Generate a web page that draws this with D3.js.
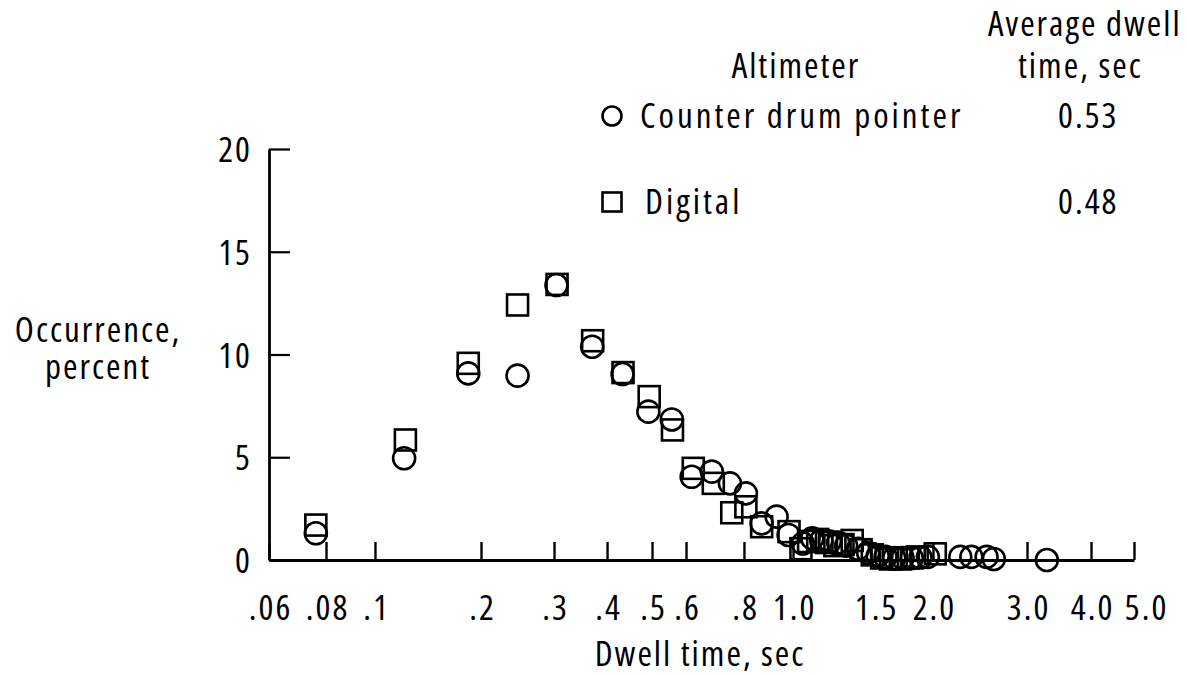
<!DOCTYPE html>
<html>
<head>
<meta charset="utf-8">
<script src="https://cdn.jsdelivr.net/npm/d3@7"></script>
<style>
  body { margin: 0; background: #fff; }
  .axis path, .axis line { stroke: #000; }
  .axis text, .label {
    font-family: "Open Sans", "Roboto", sans-serif;
    font-stretch: 75%;
    font-weight: 500;
    font-size: 35px;
    letter-spacing: 2px;
    fill: #000;
  }
  .label.wide { letter-spacing: 3px; }
  .mark { fill: none; stroke: #000; stroke-width: 2.6; }
</style>
</head>
<body>
<svg width="1189" height="676"></svg>
<script>
// dwell time (sec) and occurrence (percent)
const counterDwell = [0.076, 0.121, 0.184, 0.245, 0.304, 0.369, 0.432, 0.491, 0.556,
  0.617, 0.682, 0.746, 0.807, 0.867, 0.928, 0.98, 1.05, 1.10, 1.15, 1.20, 1.25, 1.30,
  1.38, 1.45, 1.52, 1.58, 1.65, 1.72, 1.80, 1.88, 1.95, 2.25, 2.36, 2.52, 2.60, 3.28];
const counterPct = [1.30, 4.95, 9.08, 8.97, 13.38, 10.38, 9.05, 7.22, 6.84,
  4.05, 4.30, 3.73, 3.24, 1.78, 2.11, 1.22, 0.80, 1.05, 0.95, 0.90, 0.85, 0.70,
  0.55, 0.35, 0.20, 0.15, 0.10, 0.10, 0.10, 0.12, 0.15, 0.15, 0.15, 0.15, 0.05, 0.0];

const digitalDwell = [0.076, 0.122, 0.184, 0.245, 0.305, 0.37, 0.433, 0.493, 0.558,
  0.622, 0.687, 0.753, 0.807, 0.867, 0.982, 1.04, 1.08, 1.13, 1.18, 1.23, 1.28, 1.34,
  1.40, 1.48, 1.55, 1.62, 1.70, 1.77, 1.85, 2.02];
const digitalPct = [1.70, 5.84, 9.57, 12.41, 13.41, 10.67, 9.12, 7.95, 6.33,
  4.46, 3.73, 2.30, 2.59, 1.62, 1.38, 0.55, 0.90, 1.00, 0.85, 0.70, 0.75, 0.95,
  0.50, 0.25, 0.10, 0.05, 0.05, 0.10, 0.15, 0.30];

const xTicks = [0.06, 0.08, 0.1, 0.2, 0.3, 0.4, 0.5, 0.6, 0.8, 1.0, 1.5, 2.0, 3.0, 4.0, 5.0];
const xTickLabels = [".06", ".08", ".1", ".2", ".3", ".4", ".5", ".6", ".8", "1.0", "1.5", "2.0", "3.0", "4.0", "5.0"];
const yTicks = [0, 5, 10, 15, 20];

const series = ["Counter drum pointer", "Digital"];
const averages = ["0.53", "0.48"];

// the original log axis is hand drawn, so ticks are not evenly spaced;
// these are the tick positions as a fraction of the axis length
const xStops = [0, .0659, .1225, .2451, .3295, .3908, .4428, .4821, .5491, .6058, .7006, .7676, .8763, .9503, 1];

const svg = d3.select("svg");
const margin = { top: 149, right: 55, bottom: 116, left: 269 };
const w = +svg.attr("width") - margin.left - margin.right;
const h = +svg.attr("height") - margin.top - margin.bottom;

const g = svg.append("g")
  .attr("transform", `translate(${margin.left}, ${margin.top})`);

const x = d3.scaleLog()
  .domain(xTicks)
  .range(xStops.map(f => f * w));

const y = d3.scaleLinear()
  .domain([0, 20])
  .range([h, 0]);

// axes
const xAxis = g.append("g")
  .attr("class", "axis")
  .attr("transform", `translate(0, ${h})`)
  .call(d3.axisBottom(x)
    .tickValues(xTicks)
    .tickFormat((d, i) => xTickLabels[i])
    .tickSizeInner(-18)
    .tickSizeOuter(0)
    .tickPadding(35));
xAxis.select(".domain").attr("stroke-width", 3.2);
xAxis.selectAll(".tick line").attr("stroke-width", 2.4);
xAxis.selectAll(".tick text").attr("dx", 1);
xAxis.selectAll(".tick").filter(d => d === 5.0).select("text").attr("dx", 12);

const yAxis = g.append("g")
  .attr("class", "axis")
  .call(d3.axisLeft(y)
    .tickValues(yTicks)
    .tickSizeInner(-21)
    .tickSizeOuter(0)
    .tickPadding(17));
yAxis.select(".domain").attr("stroke-width", 2.8);
yAxis.selectAll(".tick line").attr("stroke-width", 2.2);
yAxis.selectAll(".tick text").attr("dy", "0.36em");

// marks
const r = 11;
const side = 21;

g.append("g")
  .selectAll("circle")
  .data(d3.zip(counterDwell, counterPct))
  .join("circle")
    .attr("class", "mark")
    .attr("cx", d => x(d[0]))
    .attr("cy", d => y(d[1]))
    .attr("r", r);

g.append("g")
  .selectAll("rect")
  .data(d3.zip(digitalDwell, digitalPct))
  .join("rect")
    .attr("class", "mark")
    .attr("x", d => x(d[0]) - side / 2)
    .attr("y", d => y(d[1]) - side / 2)
    .attr("width", side)
    .attr("height", side);

// axis titles
svg.append("text")
  .attr("class", "label")
  .attr("text-anchor", "middle")
  .attr("x", 98).attr("y", 342)
  .text("Occurrence,")
  .append("tspan")
    .attr("x", 98).attr("dy", 37)
    .text("percent");

svg.append("text")
  .attr("class", "label")
  .attr("text-anchor", "middle")
  .attr("x", margin.left + x(0.6) + 14).attr("y", 666)
  .text("Dwell time, sec");

// legend
const legend = svg.append("g");

legend.append("text")
  .attr("class", "label")
  .attr("text-anchor", "middle")
  .attr("x", 796).attr("y", 78)
  .text("Altimeter");

legend.append("text")
  .attr("class", "label")
  .attr("x", 988).attr("y", 36)
  .text("Average dwell");

legend.append("text")
  .attr("class", "label")
  .attr("x", 1018).attr("y", 78)
  .text("time,  sec");

const rowY = [116, 202];

legend.append("circle")
  .attr("class", "mark")
  .attr("cx", 612).attr("cy", rowY[0])
  .attr("r", 9.5);

legend.append("rect")
  .attr("class", "mark")
  .attr("x", 612 - 9.5).attr("y", rowY[1] - 9.5)
  .attr("width", 19).attr("height", 19);

legend.selectAll(".name")
  .data(series)
  .join("text")
    .attr("class", "label wide name")
    .attr("x", (d, i) => i ? 645 : 640)
    .attr("y", (d, i) => rowY[i] + 12)
    .text(d => d);

legend.selectAll(".avg")
  .data(averages)
  .join("text")
    .attr("class", "label avg")
    .attr("x", 1058)
    .attr("y", (d, i) => rowY[i] + 12)
    .text(d => d);
</script>
</body>
</html>
